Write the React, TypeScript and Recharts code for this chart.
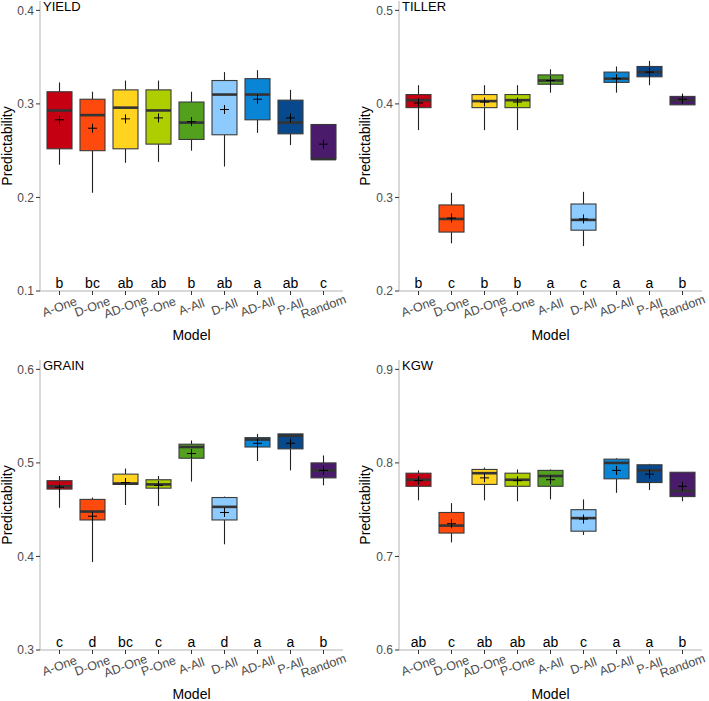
import { ComposedChart, Bar, XAxis, YAxis } from 'recharts';

const models = ['A-One', 'D-One', 'AD-One', 'P-One', 'A-All', 'D-All', 'AD-All', 'P-All', 'Random'];
const fills = ['#C40012', '#FF4A0D', '#FFD320', '#AECE00', '#53A01E', '#8DCBFF', '#0A85D6', '#08488C', '#4B1B6B'];

// YIELD
const yieldLow = [0.235, 0.205, 0.237, 0.238, 0.250, 0.233, 0.269, 0.256, 0.241];
const yieldQ1 = [0.252, 0.250, 0.252, 0.257, 0.262, 0.267, 0.283, 0.268, 0.241];
const yieldMed = [0.293, 0.288, 0.296, 0.293, 0.280, 0.310, 0.310, 0.280, 0.241];
const yieldQ3 = [0.313, 0.305, 0.315, 0.315, 0.302, 0.325, 0.327, 0.304, 0.278];
const yieldHigh = [0.323, 0.313, 0.325, 0.325, 0.313, 0.334, 0.336, 0.315, 0.278];
const yieldMean = [0.283, 0.274, 0.284, 0.285, 0.281, 0.294, 0.305, 0.285, 0.257];
const yieldLetters = ['b', 'bc', 'ab', 'ab', 'b', 'ab', 'a', 'ab', 'c'];

// TILLER
const tillerLow = [0.372, 0.251, 0.372, 0.372, 0.412, 0.248, 0.412, 0.420, 0.399];
const tillerQ1 = [0.396, 0.263, 0.396, 0.396, 0.421, 0.265, 0.423, 0.429, 0.399];
const tillerMed = [0.404, 0.277, 0.403, 0.404, 0.425, 0.276, 0.427, 0.434, 0.404];
const tillerQ3 = [0.410, 0.292, 0.410, 0.410, 0.431, 0.293, 0.434, 0.440, 0.408];
const tillerHigh = [0.420, 0.305, 0.420, 0.420, 0.437, 0.306, 0.440, 0.446, 0.411];
const tillerMean = [0.401, 0.278, 0.402, 0.402, 0.425, 0.277, 0.427, 0.434, 0.405];
const tillerLetters = ['b', 'c', 'b', 'b', 'a', 'c', 'a', 'a', 'b'];

// GRAIN
const grainLow = [0.452, 0.394, 0.455, 0.454, 0.480, 0.413, 0.502, 0.492, 0.476];
const grainQ1 = [0.472, 0.439, 0.477, 0.473, 0.505, 0.439, 0.517, 0.515, 0.484];
const grainMed = [0.475, 0.448, 0.478, 0.477, 0.517, 0.453, 0.525, 0.529, 0.492];
const grainQ3 = [0.481, 0.461, 0.488, 0.482, 0.520, 0.463, 0.527, 0.531, 0.500];
const grainHigh = [0.486, 0.463, 0.494, 0.486, 0.524, 0.464, 0.531, 0.531, 0.508];
const grainMean = [0.474, 0.443, 0.479, 0.476, 0.510, 0.447, 0.521, 0.521, 0.492];
const grainLetters = ['c', 'd', 'bc', 'c', 'a', 'd', 'a', 'a', 'b'];

// KGW
const kgwLow = [0.760, 0.715, 0.760, 0.759, 0.761, 0.723, 0.768, 0.771, 0.759];
const kgwQ1 = [0.775, 0.725, 0.777, 0.775, 0.775, 0.727, 0.783, 0.779, 0.764];
const kgwMed = [0.782, 0.733, 0.789, 0.782, 0.786, 0.741, 0.800, 0.792, 0.770];
const kgwQ3 = [0.789, 0.747, 0.793, 0.789, 0.792, 0.750, 0.804, 0.798, 0.790];
const kgwHigh = [0.792, 0.757, 0.795, 0.793, 0.793, 0.761, 0.805, 0.799, 0.790];
const kgwMean = [0.781, 0.735, 0.784, 0.781, 0.782, 0.740, 0.792, 0.788, 0.775];
const kgwLetters = ['ab', 'c', 'ab', 'ab', 'ab', 'c', 'a', 'a', 'b'];

const FONT = '"Liberation Sans", Arial, sans-serif';

function makeRows(low: number[], q1: number[], med: number[], q3: number[], high: number[], mean: number[]) {
  return models.map((m, i) => ({
    model: m,
    low: low[i], q1: q1[i], med: med[i], q3: q3[i], high: high[i], mean: mean[i],
    range: [low[i], high[i]],
    fill: fills[i],
  }));
}

// box, whiskers, median and mean cross, all placed inside the bar's own low..high pixel span
function BoxShape(props: any) {
  const { x, y, width, height, payload } = props;
  const span = payload.high - payload.low;
  const k = span > 0 ? height / span : 0;
  const py = (v: number) => y + (payload.high - v) * k;
  const cx = x + width / 2;
  const my = py(payload.mean);
  return (
    <g>
      <line x1={cx} x2={cx} y1={py(payload.high)} y2={py(payload.q3)} stroke="#222" strokeWidth={1.1} />
      <line x1={cx} x2={cx} y1={py(payload.q1)} y2={py(payload.low)} stroke="#222" strokeWidth={1.1} />
      <rect x={x} y={py(payload.q3)} width={width} height={py(payload.q1) - py(payload.q3)}
        fill={payload.fill} stroke="#3a3a3a" strokeWidth={1.1} />
      <line x1={x} x2={x + width} y1={py(payload.med)} y2={py(payload.med)} stroke="#333" strokeWidth={2.6} />
      <line x1={cx - 4.5} x2={cx + 4.5} y1={my} y2={my} stroke="#000" strokeWidth={1} />
      <line x1={cx} x2={cx} y1={my - 4.5} y2={my + 4.5} stroke="#000" strokeWidth={1} />
    </g>
  );
}

function ModelTick({ x, y, payload, index, letters }: any) {
  return (
    <g>
      <text x={x} y={y - 9} textAnchor="middle" fontSize={14} fill="#000" fontFamily={FONT}>
        {letters[index]}
      </text>
      <text x={x} y={y + 10} textAnchor="middle" dominantBaseline="central" fontSize={12.5}
        fill="#4d4d4d" fontFamily={FONT} transform={`rotate(-20, ${x}, ${y + 10})`}>
        {payload.value}
      </text>
    </g>
  );
}

function Panel({ title, rows, letters, lo, left, top, width, yw, rm, labelOffset }: any) {
  const ticks = [lo, lo + 0.1, lo + 0.2, lo + 0.3];
  return (
    <div style={{ position: 'absolute', left, top, width, height: 342 }}>
      <ComposedChart width={width} height={342} data={rows} margin={{ top: 1, right: rm, bottom: 0, left: 0 }}>
        <XAxis
          dataKey="model"
          interval={0}
          height={51}
          padding={{ left: 3, right: 3 }}
          tickSize={4}
          tickLine={{ stroke: '#333' }}
          axisLine={{ stroke: '#b3b3b3' }}
          tick={(p: any) => <ModelTick {...p} letters={letters} />}
          label={{ value: 'Model', position: 'insideBottom', offset: 2, fill: '#000', fontSize: 14, fontFamily: FONT }}
        />
        <YAxis
          type="number"
          width={yw}
          domain={[lo, lo + 0.31]}
          ticks={ticks}
          allowDataOverflow
          tickSize={4}
          tickMargin={2}
          tickFormatter={(v: number) => v.toFixed(1)}
          tick={{ fill: '#4d4d4d', fontSize: 12, fontFamily: FONT }}
          tickLine={{ stroke: '#333' }}
          axisLine={{ stroke: '#b3b3b3' }}
          label={{ value: 'Predictability', angle: -90, position: 'insideLeft', offset: labelOffset,
            style: { textAnchor: 'middle' }, fill: '#000', fontSize: 14, fontFamily: FONT }}
        />
        <Bar dataKey="range" barSize={25} shape={<BoxShape />} isAnimationActive={false} />
      </ComposedChart>
      <div style={{ position: 'absolute', left: yw + 3, top: 0, fontSize: 13, lineHeight: '14px', color: '#000', fontFamily: FONT }}>
        {title}
      </div>
    </div>
  );
}

export default function App() {
  const yieldRows = makeRows(yieldLow, yieldQ1, yieldMed, yieldQ3, yieldHigh, yieldMean);
  const tillerRows = makeRows(tillerLow, tillerQ1, tillerMed, tillerQ3, tillerHigh, tillerMean);
  const grainRows = makeRows(grainLow, grainQ1, grainMed, grainQ3, grainHigh, grainMean);
  const kgwRows = makeRows(kgwLow, kgwQ1, kgwMed, kgwQ3, kgwHigh, kgwMean);
  return (
    <div style={{ position: 'absolute', left: 0, top: 0, width: 709, height: 701, background: '#fff', fontFamily: FONT }}>
      <Panel title="YIELD" rows={yieldRows} letters={yieldLetters} lo={0.1} left={0} top={0} width={354} yw={40} rm={11} labelOffset={7} />
      <Panel title="TILLER" rows={tillerRows} letters={tillerLetters} lo={0.2} left={354} top={0} width={355} yw={45} rm={7} labelOffset={11} />
      <Panel title="GRAIN" rows={grainRows} letters={grainLetters} lo={0.3} left={0} top={359} width={354} yw={40} rm={11} labelOffset={7} />
      <Panel title="KGW" rows={kgwRows} letters={kgwLetters} lo={0.6} left={354} top={359} width={355} yw={45} rm={7} labelOffset={11} />
    </div>
  );
}
